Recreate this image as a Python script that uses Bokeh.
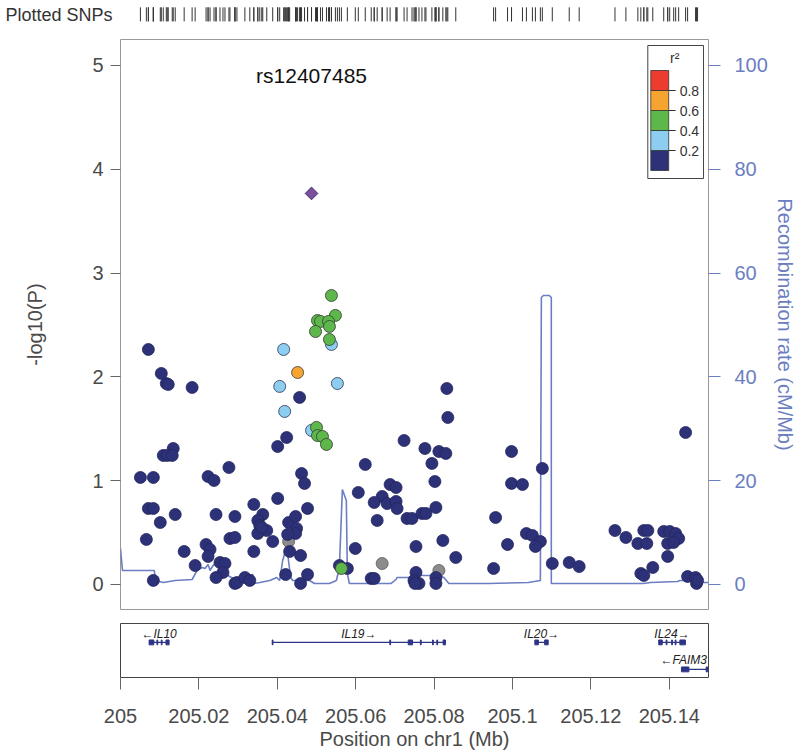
from bokeh.plotting import figure
from bokeh.models import Range1d, LinearAxis, FixedTicker, CustomJSTickFormatter
from bokeh.layouts import column
from bokeh.embed import file_html
from bokeh.resources import INLINE
from bokeh.core.properties import value

FONT = "Liberation Sans"

# ---------------- data ----------------
lead_name = "rs12407485"
lead_pos = [205.04873]
lead_logp = [3.767]

navy_pos = [205.00711, 205.01041, 205.01168, 205.01218, 205.01827, 205.01345, 205.01091, 205.01193, 205.01320, 205.00508,
            205.00838, 205.02234, 205.02386, 205.02766, 205.04010, 205.04239, 205.04619, 205.04695, 205.00711, 205.00838,
            205.01015, 205.01396, 205.02437, 205.02919, 205.04010, 205.03401, 205.03629, 205.03503, 205.03553, 205.03731,
            205.03503, 205.03604, 205.04289, 205.04467, 205.04492, 205.04467, 205.04264, 205.04772, 205.03883, 205.04315,
            205.04594, 205.00660, 205.01624, 205.02183, 205.02284, 205.02234, 205.02792, 205.02919, 205.03401, 205.01904,
            205.02538, 205.02665, 205.02614, 205.00838, 205.02437, 205.02919, 205.02970, 205.03173, 205.03299, 205.04213,
            205.04594, 205.04772, 205.05584, 205.05787, 205.05990, 205.06066, 205.04569, 205.08350, 205.08325, 205.07234,
            205.07766, 205.08122, 205.08299, 205.06244, 205.07944, 205.09975, 205.10761, 205.06878, 205.07030, 205.08020,
            205.09975, 205.10254, 205.06675, 205.06472, 205.06802, 205.07030, 205.07056, 205.08046, 205.07310, 205.07437,
            205.07690, 205.07792, 205.06548, 205.09569, 205.10355, 205.10508, 205.10711, 205.10584, 205.09873, 205.07538,
            205.08223, 205.08553, 205.09518, 205.11015, 205.11447, 205.11701, 205.06396, 205.06472, 205.07538, 205.07487,
            205.07614, 205.07513, 205.08046, 205.08046, 205.14416, 205.12614, 205.12893, 205.13350, 205.13452, 205.13198,
            205.13426, 205.13858, 205.14010, 205.14162, 205.14239, 205.13959, 205.14112, 205.13959, 205.13579, 205.13274,
            205.13350, 205.14467, 205.14670, 205.14695, 205.14721]
navy_logp = [2.264, 2.033, 1.936, 1.927, 1.898, 1.310, 1.243, 1.243, 1.243, 1.031,
             1.031, 1.040, 1.002, 1.127, 1.329, 1.416, 1.069, 0.973, 0.732, 0.732,
             0.597, 0.674, 0.674, 0.655, 0.829, 0.771, 0.674, 0.617, 0.568, 0.520,
             0.491, 0.549, 0.597, 0.655, 0.540, 0.491, 0.482, 0.732, 0.414, 0.318,
             0.279, 0.434, 0.318, 0.385, 0.337, 0.270, 0.443, 0.453, 0.318, 0.183,
             0.212, 0.202, 0.116, 0.039, 0.067, 0.010, 0.019, 0.067, 0.039, 0.096,
             0.010, 0.096, 0.183, 0.154, 0.347, 0.886, 1.802, 1.609, 1.888, 1.387,
             1.310, 1.281, 1.262, 1.156, 1.166, 1.281, 1.118, 0.963, 0.934, 0.992,
             0.973, 0.963, 0.848, 0.790, 0.780, 0.800, 0.732, 0.742, 0.636, 0.636,
             0.684, 0.684, 0.617, 0.645, 0.491, 0.472, 0.414, 0.366, 0.385, 0.366,
             0.424, 0.260, 0.154, 0.202, 0.212, 0.173, 0.058, 0.058, 0.116, 0.039,
             0.010, 0.010, 0.067, 0.010, 1.464, 0.520, 0.453, 0.520, 0.520, 0.395,
             0.395, 0.511, 0.511, 0.491, 0.443, 0.395, 0.405, 0.270, 0.164, 0.106,
             0.087, 0.077, 0.067, 0.010, 0.039]

grey_pos = [205.04289, 205.06675, 205.08122]
grey_logp = [0.414, 0.202, 0.135]

lblue_pos = [205.04162, 205.04061, 205.05533, 205.04188, 205.04873, 205.05381]
lblue_logp = [2.264, 1.908, 1.936, 1.667, 1.484, 2.312]

green_pos = [205.05381, 205.05482, 205.05025, 205.05102, 205.05305, 205.05330, 205.04975, 205.05330,
             205.05000, 205.05025, 205.05152, 205.05254, 205.05635]
green_logp = [2.784, 2.592, 2.543, 2.534, 2.534, 2.486, 2.437, 2.360,
              1.513, 1.435, 1.426, 1.349, 0.154]

orange_pos = [205.04518]
orange_logp = [2.042]

rec_pos = [205.00000, 205.00051, 205.00863, 205.00888, 205.01091, 205.01396, 205.01827, 205.01954, 205.02081, 205.02157,
           205.02234, 205.02284, 205.02360, 205.02538, 205.02614, 205.02741, 205.02919, 205.03376, 205.03401, 205.03553,
           205.03807, 205.03985, 205.04061, 205.04137, 205.04188, 205.04264, 205.04340, 205.04391, 205.04822, 205.04949,
           205.05330, 205.05508, 205.05584, 205.05660, 205.05761, 205.05787, 205.05838, 205.06904, 205.07030, 205.07056,
           205.07360, 205.07538, 205.08122, 205.08249, 205.08376, 205.09391, 205.10406, 205.10711, 205.10736, 205.10787,
           205.10939, 205.10990, 205.10990, 205.13325, 205.13528, 205.14213, 205.14264, 205.14543, 205.14695, 205.15000]
rec_rate = [6.94, 2.70, 2.70, 0.77, 0.39, 0.77, 0.96, 2.70, 3.28, 3.08,
            3.85, 2.70, 3.66, 4.62, 2.70, 1.73, 0.96, 1.93, 0.19, 0.39,
            0.77, 1.35, 0.77, 4.62, 5.97, 5.97, 1.35, 0.77, 0.77, 0.19,
            0.19, 0.77, 3.28, 18.30, 16.19, 2.12, 0.19, 0.19, 0.96, 1.35,
            1.35, 1.73, 1.73, 1.35, 0.19, 0.19, 0.39, 0.77, 55.30, 55.68,
            55.68, 55.30, 0.19, 0.19, 0.39, 0.58, 0.77, 0.77, 0.39, 0.39]

r2_bin_low = [0.0, 0.2, 0.4, 0.6, 0.8]
r2_bin_high = [0.2, 0.4, 0.6, 0.8, 1.0]
r2_breaks = [0.2, 0.4, 0.6, 0.8]
r2_break_labels = ["0.2", "0.4", "0.6", "0.8"]
logp_ticks = [0, 1, 2, 3, 4, 5]
rec_ticks = [0, 20, 40, 60, 80, 100]
pos_ticks = [205.0, 205.02, 205.04, 205.06, 205.08, 205.1, 205.12, 205.14]

gene_names = ["IL10", "IL19", "IL20", "IL24", "FAIM3"]
gene_start = [205.0073, 205.0387, 205.1057, 205.1373, 205.1431]
gene_end = [205.0124, 205.0829, 205.1091, 205.1441, 205.1619]
gene_strand = ["-", "+", "+", "+", "-"]
gene_row = [1, 1, 1, 1, 2]

exon_gene = ["IL10", "IL10", "IL10", "IL10",
             "IL19", "IL19", "IL19", "IL19", "IL19", "IL19", "IL19",
             "IL20", "IL20",
             "IL24", "IL24", "IL24", "IL24", "IL24",
             "FAIM3", "FAIM3"]
exon_start = [205.0073, 205.0093, 205.0104, 205.0116,
              205.0387, 205.0687, 205.0734, 205.0765, 205.0796, 205.0807, 205.0823,
              205.1057, 205.1082,
              205.1373, 205.1392, 205.1406, 205.1415, 205.1427,
              205.1431, 205.1494]
exon_end = [205.0085, 205.0095, 205.0106, 205.0124,
            205.0389, 205.0689, 205.0745, 205.0767, 205.0798, 205.0809, 205.0829,
            205.1066, 205.1091,
            205.1382, 205.1394, 205.1408, 205.1417, 205.1441,
            205.1450, 205.1498]

# ---------------- styling / layout ----------------
NAVY = "#2D3178"
LBLUE = "#8DCDF0"
GREEN = "#5DB74A"
ORANGE = "#F6A430"
RED = "#EE3B30"
GREY = "#8C8C8C"
PURPLE = "#7B4F9E"
RECCOL = "#6C7EC2"
TXT = "#4A4A4A"
r2_colors = [NAVY, LBLUE, GREEN, ORANGE, RED]

X0, X1 = 205.0, 205.15
Y0, Y1 = -0.241, 5.25
W = 798
LB, RB = 120, W - 711
MAIN_H, MAIN_TOP, MAIN_BOT = 578, 1, 7
FL, FT = LB, 38 + MAIN_TOP                      # frame left / top on the page
ppm = (W - LB - RB) / (X1 - X0)                 # px per Mb
ppy = (MAIN_H - MAIN_TOP - MAIN_BOT) / (Y1 - Y0)


def dx(px):
    return X0 + (px - FL) / ppm


def dy(py):
    return Y1 - (py - FT) / ppy


xr = Range1d(X0, X1)

# ---- rug of plotted SNPs ----
rug = figure(width=W, height=38, x_range=xr, y_range=Range1d(0, 1),
             min_border_left=LB, min_border_right=RB, min_border_top=0, min_border_bottom=0,
             toolbar_location=None, output_backend="svg",
             x_axis_location=None, outline_line_color=None)
rug.grid.visible = False
ra0 = rug.yaxis[0]
ra0.ticker = FixedTicker(ticks=[0.63])
ra0.formatter = CustomJSTickFormatter(code="return 'Plotted SNPs';")
ra0.major_label_text_font = FONT
ra0.major_label_text_font_size = "18px"
ra0.major_label_text_color = "#333333"
ra0.major_label_standoff = 8
ra0.major_tick_out = 0
ra0.major_tick_in = 0
ra0.minor_tick_line_color = None
ra0.axis_line_color = None
all_pos = navy_pos + grey_pos + lblue_pos + green_pos + orange_pos + lead_pos
rug.segment(x0=all_pos, y0=[0.45] * len(all_pos), x1=all_pos, y1=[0.82] * len(all_pos),
            line_color="#333333", line_width=1)

# ---- main association plot ----
p = figure(width=W, height=MAIN_H, x_range=xr, y_range=Range1d(Y0, Y1),
           min_border_left=LB, min_border_right=RB, min_border_top=MAIN_TOP, min_border_bottom=MAIN_BOT,
           toolbar_location=None, output_backend="svg", x_axis_location=None,
           outline_line_color="#999999", outline_line_width=1)
p.grid.visible = False
p.extra_y_ranges = {"rec": Range1d(Y0 * 20, Y1 * 20)}

ya = p.yaxis[0]
ya.ticker = FixedTicker(ticks=logp_ticks)
ya.axis_label = "-log10(P)"
ya.axis_label_text_font = FONT
ya.axis_label_text_font_size = "20px"
ya.axis_label_text_font_style = "normal"
ya.axis_label_text_color = TXT
ya.axis_label_standoff = 43
ya.major_label_text_font = FONT
ya.major_label_text_font_size = "20px"
ya.major_label_text_color = TXT
ya.major_label_standoff = 7
ya.major_tick_out = 10
ya.major_tick_in = 0
ya.major_tick_line_color = "#666666"
ya.minor_tick_line_color = None
ya.axis_line_color = None

ra = LinearAxis(y_range_name="rec", ticker=FixedTicker(ticks=rec_ticks),
                axis_label="Recombination rate (cM/Mb)")
ra.axis_label_text_font = FONT
ra.axis_label_text_font_size = "20px"
ra.axis_label_text_font_style = "normal"
ra.axis_label_text_color = RECCOL
ra.axis_label_standoff = 3
ra.major_label_text_font = FONT
ra.major_label_text_font_size = "20px"
ra.major_label_text_color = RECCOL
ra.major_label_standoff = 14
ra.major_tick_out = 12
ra.major_tick_in = 0
ra.major_tick_line_color = RECCOL
ra.minor_tick_line_color = None
ra.axis_line_color = None
p.add_layout(ra, "right")

p.line(rec_pos, rec_rate, y_range_name="rec", line_color=RECCOL, line_width=1.6)

p.scatter(grey_pos, grey_logp, size=12, fill_color=GREY, line_color="#555555", line_width=0.8)
p.scatter(navy_pos, navy_logp, size=12, fill_color=NAVY, line_color="#23265E", line_width=0.8)
p.scatter(lblue_pos, lblue_logp, size=12, fill_color=LBLUE, line_color="#3A4A66", line_width=0.9)
p.scatter(green_pos, green_logp, size=12, fill_color=GREEN, line_color="#3A4A3A", line_width=0.9)
p.scatter(orange_pos, orange_logp, size=12, fill_color=ORANGE, line_color="#4A4A4A", line_width=0.9)
p.scatter(lead_pos, lead_logp, marker="square", angle=0.7854, size=9, fill_color=PURPLE,
          line_color="#3A2A55", line_width=0.9)

p.text(x=lead_pos, y=[4.9], text=[lead_name], text_align="center", text_baseline="middle",
       text_font=value(FONT), text_font_size="21px", text_color="#111111")

# ---- r^2 legend (placed in page pixels) ----
LEG_L, LEG_R, LEG_T, LEG_B = 650, 706, 45, 178
SW_L, SW_R, SW_B, SW_H = 653, 671, 170, 100
p.quad(left=[dx(LEG_L)], right=[dx(LEG_R)], top=[dy(LEG_T)], bottom=[dy(LEG_B)],
       fill_color="white", line_color="#444444", line_width=1)
p.quad(left=[dx(SW_L)] * len(r2_bin_low), right=[dx(SW_R)] * len(r2_bin_low),
       bottom=[dy(SW_B - v * SW_H) for v in r2_bin_low],
       top=[dy(SW_B - v * SW_H) for v in r2_bin_high],
       fill_color=r2_colors, line_color="#333333", line_width=0.8)
p.segment(x0=[dx(SW_R)] * len(r2_breaks), x1=[dx(SW_R + 7)] * len(r2_breaks),
          y0=[dy(SW_B - v * SW_H) for v in r2_breaks], y1=[dy(SW_B - v * SW_H) for v in r2_breaks],
          line_color="#333333", line_width=1)
p.text(x=[dx(SW_R + 11)] * len(r2_breaks), y=[dy(SW_B - v * SW_H) for v in r2_breaks],
       text=r2_break_labels, text_align="left", text_baseline="middle",
       text_font=value(FONT), text_font_size="14px", text_color="#333333")
p.text(x=[dx(677)], y=[dy(57)], text=["r\u00b2"], text_align="center", text_baseline="middle",
       text_font=value(FONT), text_font_size="14px", text_color="#333333")

# ---- gene track ----
GENE_H, G_TOP, G_FRAME = 752 - 38 - MAIN_H, 7, 54
g = figure(width=W, height=GENE_H, x_range=xr, y_range=Range1d(0, 1),
           min_border_left=LB, min_border_right=RB, min_border_top=G_TOP,
           min_border_bottom=GENE_H - G_TOP - G_FRAME,
           toolbar_location=None, output_backend="svg", y_axis_location=None,
           outline_line_color="#444444", outline_line_width=1)
g.grid.visible = False
ROW_EXON = {1: 0.65, 2: 0.15}
ROW_LABEL = {1: 0.81, 2: 0.33}
GENECOL = "#2E3485"

gy = [ROW_EXON[r] for r in gene_row]
g.segment(x0=gene_start, y0=gy, x1=gene_end, y1=gy, line_color=GENECOL, line_width=1.2)
row_of = {n: r for n, r in zip(gene_names, gene_row)}
ey = [ROW_EXON[row_of[n]] for n in exon_gene]
g.quad(left=exon_start, right=exon_end, bottom=[y - 0.045 for y in ey], top=[y + 0.045 for y in ey],
       fill_color=GENECOL, line_color=GENECOL, line_width=1)

lab_c_x, lab_c_y, lab_c_t = [], [], []
lab_r_x, lab_r_y, lab_r_t = [], [], []
for n, s, e, st, r in zip(gene_names, gene_start, gene_end, gene_strand, gene_row):
    t = ("\u2190" + n) if st == "-" else (n + "\u2192")
    if e > X1:
        lab_r_x.append(X1 - 0.0004); lab_r_y.append(ROW_LABEL[r]); lab_r_t.append(t)
    else:
        lab_c_x.append((s + e) / 2); lab_c_y.append(ROW_LABEL[r]); lab_c_t.append(t)
g.text(x=lab_c_x, y=lab_c_y, text=lab_c_t, text_align="center", text_baseline="middle",
       text_font=value(FONT), text_font_size="12px", text_font_style="italic", text_color="#222222")
g.text(x=lab_r_x, y=lab_r_y, text=lab_r_t, text_align="right", text_baseline="middle",
       text_font=value(FONT), text_font_size="12px", text_font_style="italic", text_color="#222222")

xa = g.xaxis[0]
xa.ticker = FixedTicker(ticks=pos_ticks)
xa.formatter = CustomJSTickFormatter(code="return String(Math.round(tick*100)/100);")
xa.axis_label = "Position on chr1 (Mb)"
xa.axis_label_text_font = FONT
xa.axis_label_text_font_size = "20px"
xa.axis_label_text_font_style = "normal"
xa.axis_label_text_color = TXT
xa.axis_label_standoff = 2
xa.major_label_text_font = FONT
xa.major_label_text_font_size = "20px"
xa.major_label_text_color = TXT
xa.major_label_standoff = 19
xa.major_tick_out = 12
xa.major_tick_in = 0
xa.major_tick_line_color = "#666666"
xa.minor_tick_line_color = None
xa.axis_line_color = None

layout = column(rug, p, g, spacing=0)
open("out.html", "w").write(file_html(layout, INLINE))
